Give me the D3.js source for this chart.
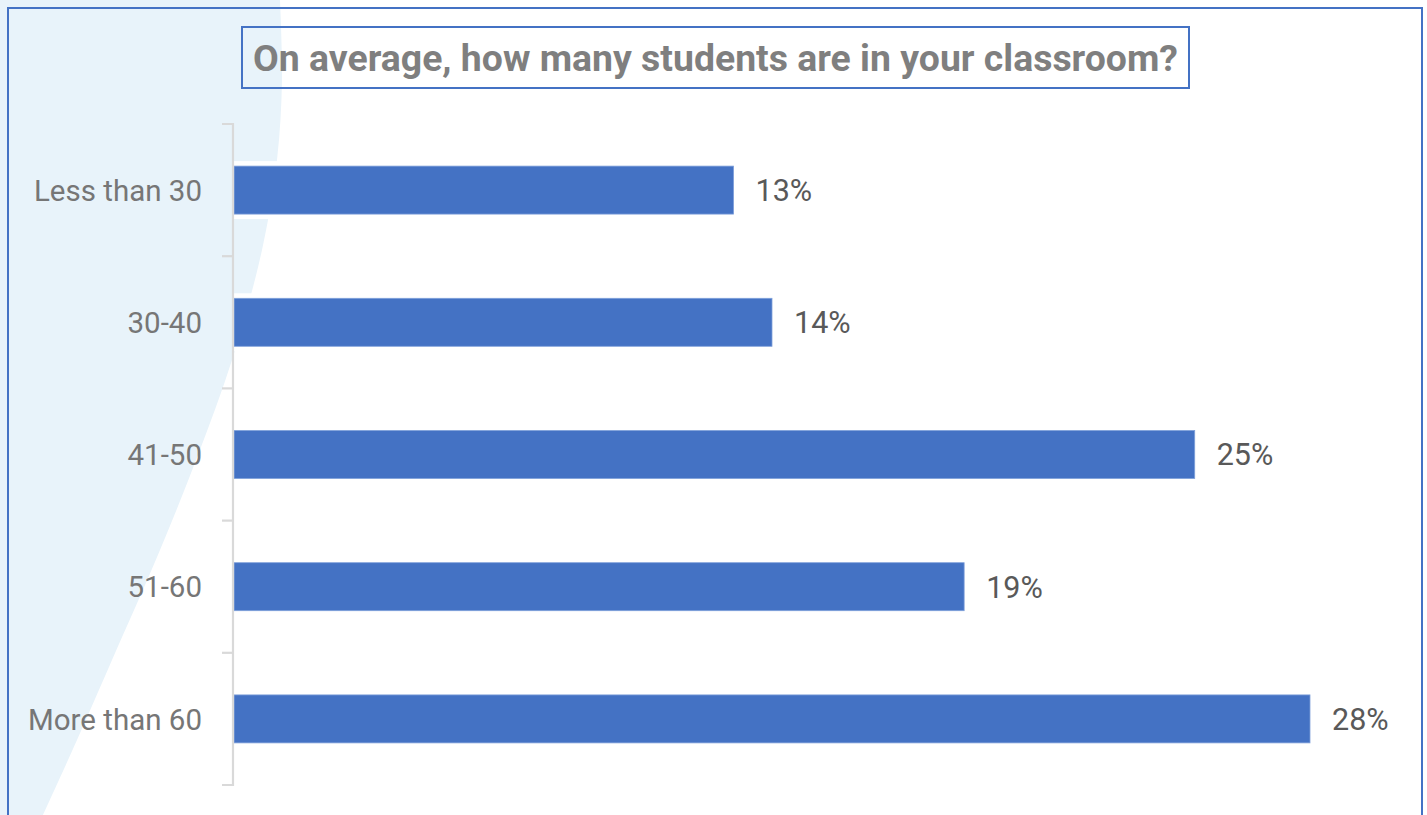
<!DOCTYPE html>
<html>
<head>
<meta charset="utf-8">
<script src="https://cdn.jsdelivr.net/npm/d3@7"></script>
<style>
  html, body { margin: 0; padding: 0; background: #ffffff; }
  svg { display: block; }
</style>
</head>
<body>
<svg id="chart" width="1427" height="815"></svg>
<script>
// Survey answers: class size buckets and share of respondents (%)
const categories = ["Less than 30", "30-40", "41-50", "51-60", "More than 60"];
const shares = [13, 14, 25, 19, 28];
const titleText = "On average, how many students are in your classroom?";

const W = 1427, H = 815;
const svg = d3.select("#chart");

// decorative pale-blue swoosh on the left side of the slide
const swoosh = [[280, 0], [282, 80], [277, 160], [262, 250], [232, 360], [198, 455], [160, 550], [112, 660], [77, 740], [43, 815]];
const edge = d3.line().curve(d3.curveCatmullRom.alpha(0.5))(swoosh);
svg.append("path")
  .attr("d", "M0,0 L" + edge.slice(1) + " L0,815 Z")
  .attr("fill", "#E8F3FA");

// outer frame
svg.append("rect")
  .attr("x", 8).attr("y", 8).attr("width", 1414).attr("height", 830)
  .attr("fill", "none").attr("stroke", "#4472C4").attr("stroke-width", 2);

// scales
const y = d3.scaleBand().domain(categories).range([124, 785])
  .paddingInner(0.637).paddingOuter(0.3185);
const x = d3.scaleLinear().domain([0, 28]).range([234, 1310]);

const data = categories.map((c, i) => ({ cat: c, v: shares[i] }));

// white backing behind each bar
svg.append("g").selectAll("rect").data(data).join("rect")
  .attr("x", x(0) - 1)
  .attr("y", d => y(d.cat) - 5)
  .attr("width", d => x(d.v) - x(0) + 6)
  .attr("height", y.bandwidth() + 10)
  .attr("fill", "#ffffff");

// bars
svg.append("g").selectAll("rect").data(data).join("rect")
  .attr("x", x(0))
  .attr("y", d => y(d.cat))
  .attr("width", d => x(d.v) - x(0))
  .attr("height", y.bandwidth())
  .attr("fill", "#4472C4")
  .attr("stroke", "#7FA0DA").attr("stroke-width", 0.8);

// category axis: line with tick marks between categories
const axisG = svg.append("g").attr("transform", `translate(${x(0) - 1},0)`);
const bounds = d3.range(categories.length + 1).map(i => 124 + i * y.step());
axisG.append("path")
  .attr("d", "M-11," + bounds[0] + " H0 V" + bounds[bounds.length - 1] + " H-11")
  .attr("fill", "none").attr("stroke", "#D9D9D9").attr("stroke-width", 2.2);
axisG.selectAll("line.sep").data(bounds.slice(1, -1)).join("line")
  .attr("class", "sep")
  .attr("x1", -11).attr("x2", 0).attr("y1", d => d).attr("y2", d => d)
  .attr("stroke", "#D9D9D9").attr("stroke-width", 2.2);

const labelAxis = d3.axisLeft(y).tickSize(0).tickPadding(31);
const la = svg.append("g").attr("transform", `translate(${x(0) - 1},0)`).call(labelAxis);
la.select(".domain").remove();
la.selectAll("text")
  .attr("font-family", "Roboto, 'Open Sans', sans-serif")
  .attr("font-size", 29.5)
  .attr("fill", "#767676")
  .attr("dy", "0.36em");

// value labels
svg.append("g").selectAll("text").data(data).join("text")
  .attr("x", d => x(d.v) + 22)
  .attr("y", d => y(d.cat) + y.bandwidth() / 2)
  .attr("dy", "0.36em")
  .attr("font-family", "Roboto, 'Open Sans', sans-serif")
  .attr("font-size", 30.5)
  .attr("fill", "#595959")
  .text(d => d.v + "%");

// title in a framed box
svg.append("text")
  .attr("x", 715.5).attr("y", 71)
  .attr("text-anchor", "middle")
  .attr("font-family", "Roboto, 'Open Sans', sans-serif")
  .attr("font-weight", "bold")
  .attr("font-size", 37.4)
  .attr("fill", "#7F7F7F")
  .text(titleText);
svg.append("rect")
  .attr("x", 242).attr("y", 27).attr("width", 947).attr("height", 61)
  .attr("fill", "none").attr("stroke", "#4472C4").attr("stroke-width", 2);
</script>
</body>
</html>
